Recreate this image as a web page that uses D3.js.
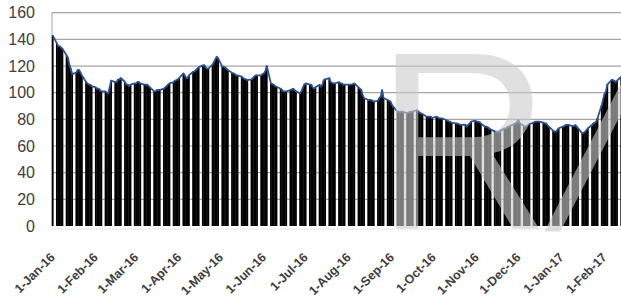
<!DOCTYPE html>
<html>
<head>
<meta charset="utf-8">
<script src="https://cdn.jsdelivr.net/npm/d3@7"></script>
<style>
  body { margin: 0; background: #fff; }
  svg { display: block; }
</style>
</head>
<body>
<div id="chart"></div>
<script>
// Daily closing values, one entry per weekday of each month
var jan16 = [143, 137, 135, 135, 134, 133, 128, 126, 121, 118, 114, 115, 117, 117, 115, 113, 108, 107, 106, 106, 105];
var feb16 = [104, 103, 103, 102, 101, 101, 100, 99.5, 104, 109, 108, 108, 110, 110, 111, 108, 106, 106, 105, 106, 107];
var mar16 = [107, 108, 108, 107, 106, 106, 106, 105, 104, 101, 101, 102, 102, 102, 103, 104, 105, 106, 107, 108, 109, 109.5, 110];
var apr16 = [111, 114.5, 113, 111, 111, 113, 115.7, 116, 117, 118, 119, 120.5, 120.7, 119, 118, 118, 121, 123, 125, 127, 126];
var may16 = [119.5, 119.5, 119, 118, 117, 115, 114.5, 114, 113, 113, 112, 111, 110.5, 110, 109.5, 110, 111, 112, 113, 113, 113, 114];
var jun16 = [114.5, 116, 120, 107, 106.5, 106, 105, 104.5, 103, 102, 101, 101, 101, 102, 102.5, 103, 102, 101, 99.5, 101, 104, 106];
var jul16 = [107, 106, 106, 104, 103, 104, 106, 104.5, 106, 109.5, 110, 111, 108, 107.5, 107, 107, 108, 107, 107, 106, 106];
var aug16 = [106, 106, 106, 106.5, 107, 104, 103, 102, 98, 96, 94.5, 94.5, 94.5, 94, 93.3, 94, 96, 97, 102, 96, 94.5, 94, 93.3];
var sep16 = [91, 89.5, 85.7, 85.7, 85.7, 85.7, 85.7, 84.5, 85, 85.7, 85.7, 85.7, 87, 86, 85, 84.5, 84, 82, 82, 82, 82, 81];
var oct16 = [82, 81.5, 81, 80.8, 80.8, 79.5, 79, 78.5, 78.3, 77.5, 77, 77, 76.5, 76, 75.8, 76, 74.5, 76, 77, 78.3, 79];
var nov16 = [78.3, 78.3, 78, 77, 74.5, 74.5, 74, 73.3, 72.5, 71, 70.7, 70.7, 70.7, 71.5, 73, 73.3, 74, 74.5, 75, 76.5, 77, 78];
var dec16 = [79.5, 77, 75, 74.5, 75, 75.8, 76.5, 77.5, 78.3, 78.3, 78.3, 78.3, 77.5, 77, 77, 75.5, 74.5, 71.5, 71, 70.7, 72, 73.3];
var jan17 = [74.5, 75, 75.8, 75.8, 75.8, 75, 75, 75.8, 74.5, 73.3, 69.5, 70, 70.7, 72, 73.3, 75.8, 77, 77.5, 78.3, 81, 90.8, 95];
var feb17 = [99, 101, 106, 109.5, 109.5, 109, 108, 109, 112];

var monthValues = [jan16, feb16, mar16, apr16, may16, jun16, jul16, aug16, sep16, oct16, nov16, dec16, jan17, feb17];
var yTicks = [0, 20, 40, 60, 80, 100, 120, 140, 160];

var svgWidth = 621;
var svgHeight = 300;

var margin = { top: 12.7, right: 0, bottom: 74, left: 52 };
var height = svgHeight - margin.top - margin.bottom;

// Pair every weekday of each month with its value
var data = [];
monthValues.forEach(function(vals, i) {
  var start = new Date(2016, i, 1);
  var days = d3.timeDay.range(start, d3.timeMonth.offset(start, 1))
    .filter(d => d.getDay() !== 0 && d.getDay() !== 6);
  vals.forEach(function(v, j) {
    data.push({ date: days[j], value: v });
  });
});

var dayPx = 1.39;
var x = d3.scaleTime()
  .domain([new Date(2016, 0, 1), new Date(2017, 1, 1)])
  .range([52.7, 52.7 + dayPx * 397]);

var y = d3.scaleLinear()
  .domain([0, 160])
  .range([margin.top + height, margin.top]);

var svg = d3.select("#chart")
  .append("svg")
  .attr("width", svgWidth)
  .attr("height", svgHeight);

// Gridlines
svg.append("g")
  .selectAll("line")
  .data(yTicks.slice(1))
  .enter().append("line")
  .attr("x1", margin.left)
  .attr("x2", svgWidth)
  .attr("y1", d => y(d))
  .attr("y2", d => y(d))
  .attr("stroke", "#a6a6a6")
  .attr("stroke-width", 1.2);

// Left axis line
svg.append("line")
  .attr("x1", margin.left).attr("x2", margin.left)
  .attr("y1", y(160)).attr("y2", y(0))
  .attr("stroke", "#a6a6a6")
  .attr("stroke-width", 1);

// Y labels
var leftAxis = d3.axisLeft(y).tickValues(yTicks).tickSize(0).tickPadding(0);
var yAxis = svg.append("g")
  .attr("transform", "translate(35,0)")
  .call(leftAxis);
yAxis.select(".domain").remove();
yAxis.selectAll("text")
  .attr("font-family", "Liberation Sans, Arial, sans-serif")
  .attr("font-size", 16)
  .attr("fill", "#404040");

// Faint base line
svg.append("line")
  .attr("x1", margin.left).attr("x2", svgWidth)
  .attr("y1", y(0) + 3).attr("y2", y(0) + 3)
  .attr("stroke", "#e4e4e4")
  .attr("stroke-width", 1);

// Bars (slightly overlapping so a trading week reads as one block)
svg.append("g")
  .selectAll("rect")
  .data(data)
  .enter().append("rect")
  .attr("x", d => x(d.date) - dayPx / 2 - 0.2)
  .attr("width", dayPx + 0.4)
  .attr("y", d => y(d.value))
  .attr("height", d => y(0) - y(d.value))
  .attr("fill", "#000");

// Line on top of bars
var line = d3.line()
  .x(d => x(d.date))
  .y(d => y(d.value));

svg.append("path")
  .datum(data)
  .attr("d", line)
  .attr("fill", "none")
  .attr("stroke", "#2f528f")
  .attr("stroke-width", 1.8)
  .attr("stroke-linejoin", "round");

// X labels, one per month, rotated about their anchor point
var tickDates = d3.timeMonth.range(new Date(2016, 0, 1), new Date(2017, 1, 2));
var fmt = d3.timeFormat("%-d-%b-%y");
var labelY = y(0) + 32;
var xLabels = svg.append("g")
  .selectAll("g")
  .data(tickDates)
  .enter().append("g")
  .attr("transform", d => `translate(${x(d) + 3}, ${labelY})`);
xLabels.append("text")
  .style("transform", "rotate(-45deg)")
  .style("transform-origin", "0px 0px")
  .attr("text-anchor", "end")
  .attr("font-family", "Liberation Sans, Arial, sans-serif")
  .attr("font-weight", "bold")
  .attr("font-size", 12.5)
  .attr("fill", "#404040")
  .text(d => fmt(d));

// Watermark: a large "R" and a slanted stroke running off the right edge
var mark = svg.append("g")
  .attr("fill", "#cccccc")
  .attr("fill-opacity", 0.6)
  .attr("font-family", "Liberation Sans, Arial, sans-serif")
  .attr("font-size", 254);
mark.append("text")
  .attr("transform", "matrix(0.95,0,0,1,376,229)")
  .text("R");
mark.append("text")
  .attr("transform", "matrix(0.8,0,-0.3,1,545,229)")
  .text("/");
</script>
</body>
</html>
